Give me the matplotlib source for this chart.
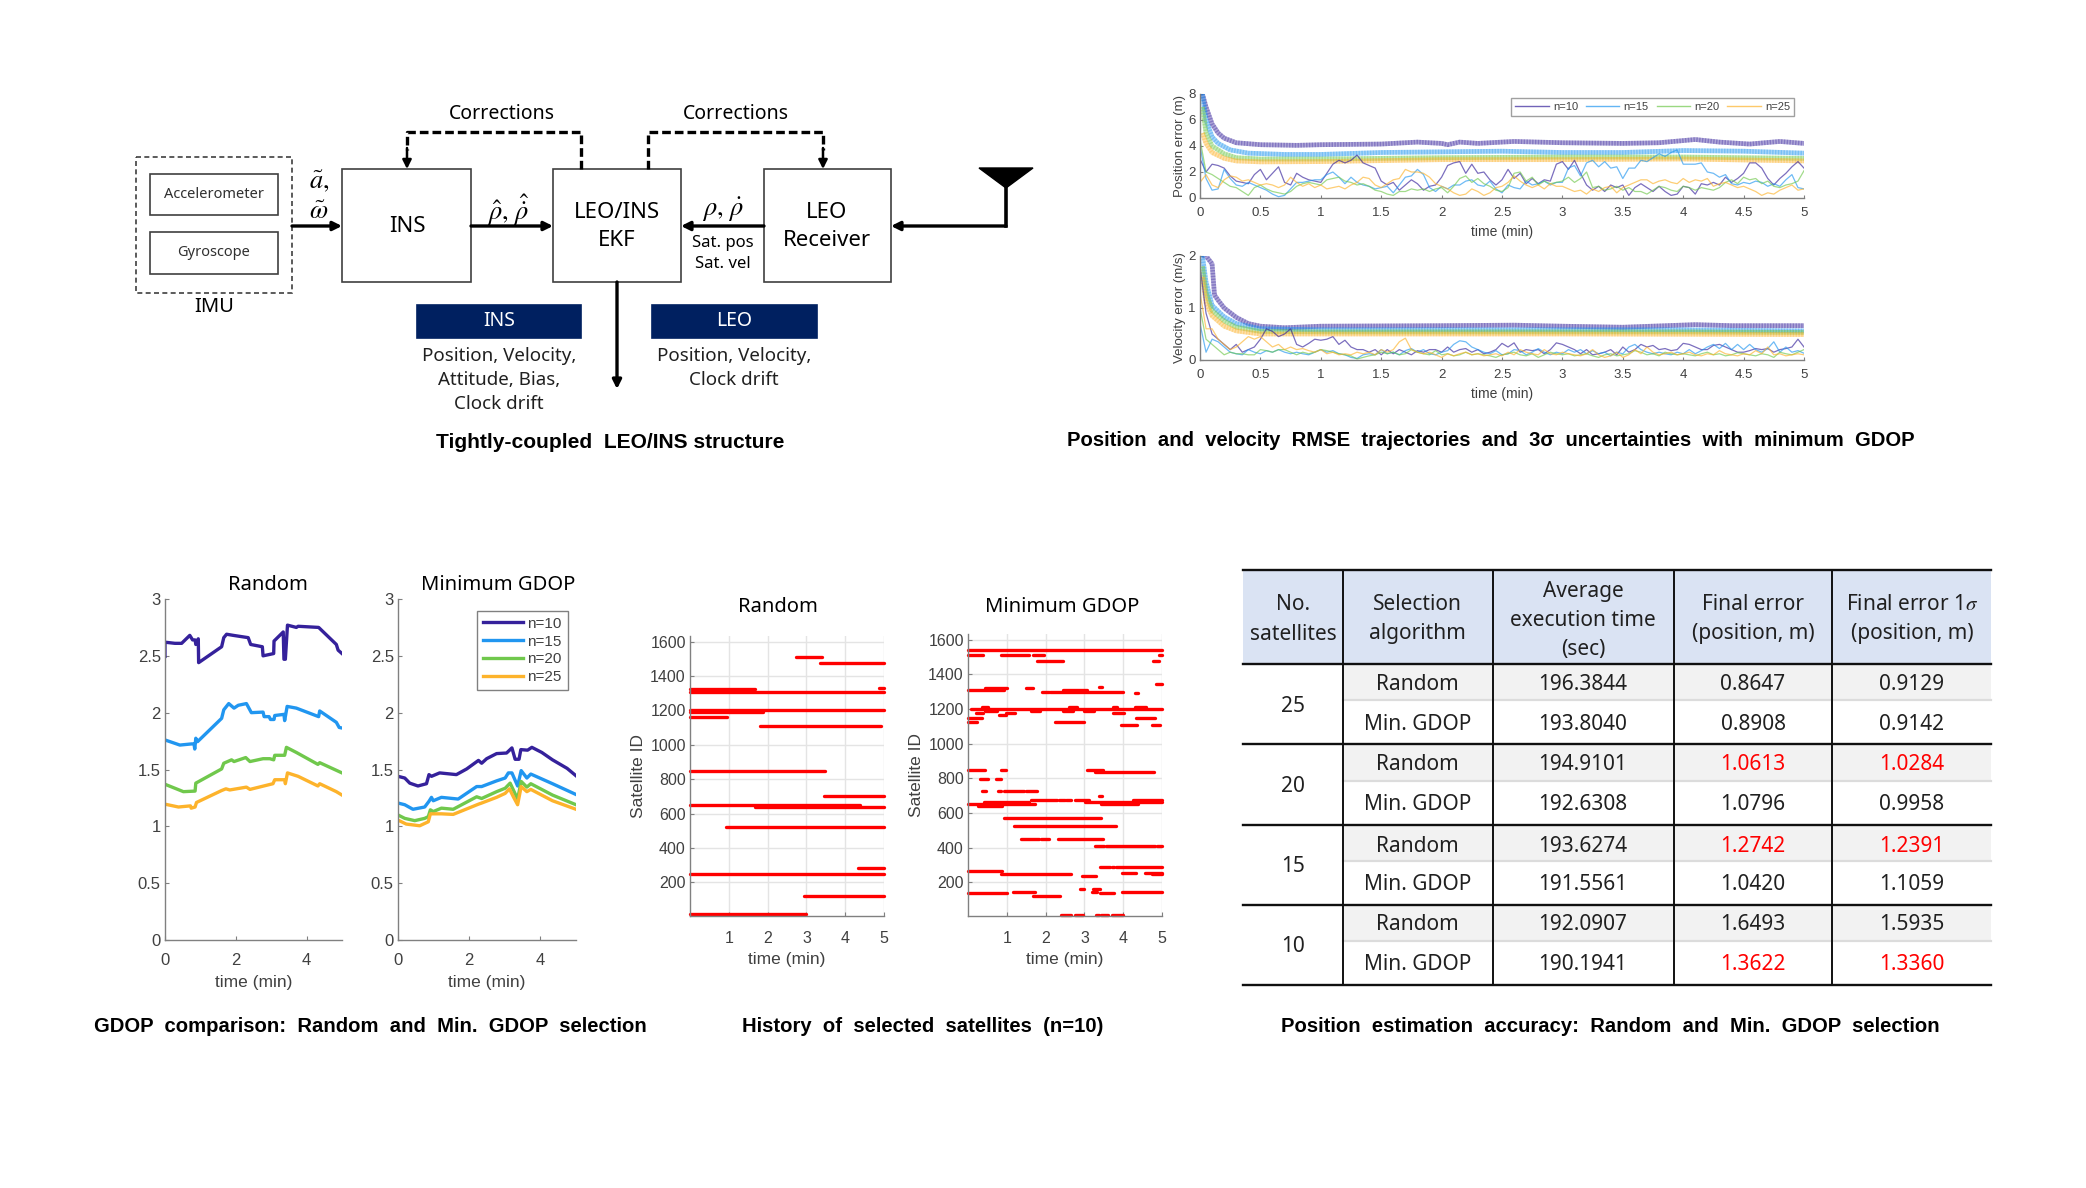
#%% Importing necessary libraries
import numpy as np
import matplotlib
matplotlib.use('Agg')
import matplotlib.pyplot as plt
from matplotlib.patches import Rectangle, Polygon

W, H = 2086, 1188
plt.rcParams['mathtext.fontset'] = 'stix'
sans = ['Noto Sans', 'DejaVu Sans']
arial = ['Liberation Sans', 'DejaVu Sans']
grey_text = '#404040'
grey_line = '#808080'

#%% Data: GDOP comparison (time, value) per number of satellites
labels_n = ['n=10', 'n=15', 'n=20', 'n=25']
colors_n = ['#35219b', '#2196f0', '#70c84c', '#fdb32b']

rand_t_10 = [0, 0, .28, .47, .70, .78, .85, .87, .94, .95, 1.60, 1.66, 1.74, 1.93, 2.35, 2.42, 2.75, 2.77, 3.07, 3.08, 3.34, 3.36, 3.40, 3.46, 3.71, 3.76, 4.34, 4.84, 4.89, 5]
rand_v_10 = [2.495, 2.62, 2.61, 2.61, 2.68, 2.64, 2.64, 2.60, 2.65, 2.44, 2.58, 2.66, 2.69, 2.68, 2.66, 2.60, 2.58, 2.50, 2.52, 2.63, 2.71, 2.47, 2.47, 2.77, 2.75, 2.76, 2.75, 2.60, 2.55, 2.52]
rand_t_15 = [0, .42, .75, .82, .84, .87, .92, 1.60, 1.66, 1.80, 1.95, 2.07, 2.30, 2.44, 2.77, 2.80, 2.94, 2.98, 3.08, 3.10, 3.36, 3.38, 3.45, 3.71, 4.34, 4.37, 4.84, 4.92, 5]
rand_v_15 = [1.76, 1.715, 1.725, 1.725, 1.68, 1.775, 1.745, 1.95, 2.025, 2.08, 2.04, 2.065, 2.08, 2.0, 2.005, 1.965, 1.965, 1.94, 1.94, 1.975, 1.985, 1.93, 2.055, 2.04, 1.965, 2.015, 1.915, 1.87, 1.865]
rand_t_20 = [0, .52, .85, .87, 1.60, 1.66, 1.88, 1.95, 2.28, 2.40, 2.77, 2.96, 3.07, 3.10, 3.38, 3.43, 3.71, 4.32, 4.37, 5]
rand_v_20 = [1.37, 1.305, 1.31, 1.38, 1.505, 1.555, 1.585, 1.57, 1.605, 1.57, 1.595, 1.595, 1.585, 1.625, 1.625, 1.695, 1.65, 1.545, 1.56, 1.47]
rand_t_25 = [0, .38, .72, .74, .85, .89, 1.60, 1.72, 1.83, 2.30, 2.40, 3.05, 3.10, 3.38, 3.40, 3.46, 3.76, 4.32, 4.37, 4.84, 5]
rand_v_25 = [1.195, 1.17, 1.18, 1.16, 1.17, 1.21, 1.315, 1.33, 1.32, 1.345, 1.325, 1.375, 1.41, 1.41, 1.375, 1.47, 1.44, 1.355, 1.375, 1.305, 1.275]

gdop_t_10 = [0, .19, .33, .56, .80, .87, .94, 1.17, 1.64, 1.93, 2.26, 2.35, 2.49, 2.77, 3.05, 3.20, 3.29, 3.40, 3.45, 3.64, 3.76, 4.04, 4.34, 4.75, 5]
gdop_v_10 = [1.44, 1.425, 1.38, 1.355, 1.375, 1.455, 1.44, 1.47, 1.455, 1.505, 1.58, 1.555, 1.595, 1.64, 1.645, 1.69, 1.59, 1.59, 1.675, 1.67, 1.695, 1.65, 1.585, 1.51, 1.445]
gdop_t_15 = [0, .19, .42, .75, .87, .94, .99, 1.22, 1.69, 2.21, 2.35, 2.77, 3.01, 3.10, 3.20, 3.36, 3.46, 3.62, 3.73, 4.34, 5]
gdop_v_15 = [1.205, 1.19, 1.15, 1.17, 1.22, 1.255, 1.225, 1.255, 1.24, 1.35, 1.35, 1.40, 1.425, 1.47, 1.47, 1.355, 1.49, 1.425, 1.46, 1.375, 1.28]
gdop_t_20 = [0, .19, .47, .75, .85, .91, .99, 1.22, 1.55, 2.21, 2.35, 2.77, 3.01, 3.15, 3.36, 3.46, 3.62, 3.73, 4.34, 5]
gdop_v_20 = [1.10, 1.07, 1.05, 1.07, 1.085, 1.145, 1.13, 1.16, 1.15, 1.26, 1.245, 1.305, 1.335, 1.38, 1.24, 1.395, 1.345, 1.375, 1.275, 1.19]
gdop_t_25 = [0, .23, .61, .85, .91, 1.22, 1.55, 2.26, 2.35, 2.77, 3.01, 3.13, 3.24, 3.36, 3.46, 3.62, 3.73, 4.34, 5]
gdop_v_25 = [1.055, 1.02, 1.005, 1.04, 1.11, 1.11, 1.105, 1.195, 1.205, 1.255, 1.29, 1.33, 1.26, 1.19, 1.35, 1.305, 1.325, 1.225, 1.15]

#%% Data: selected satellites, id and the time spans it was tracked
rand_ids = [16, 119, 247, 283, 525, 636, 650, 700, 849, 1107, 1163, 1192, 1204, 1308, 1322, 1330, 1477, 1512]
rand_spans = [[(0, 2.98)], [(2.93, 5)], [(0, 5)], [(4.33, 5)], [(.92, 5)], [(1.67, 5)], [(0, 4.37)], [(3.45, 5)], [(0, 3.49)],
              [(1.80, 4.93)], [(0, .96)], [(0, 1.87)], [(0, 5)], [(0, 5)], [(0, 1.67)], [(4.87, 5)], [(3.36, 5)], [(2.74, 3.40)]]

gdop_ids = [1539, 1508, 1475, 1341, 1329, 1318, 1308, 1296, 1290, 1211, 1202, 1188, 1177, 1163, 1146, 1123, 1105,
            849, 836, 793, 724, 699, 676, 664, 653, 638, 572, 526, 450, 406, 285, 267, 252, 246, 237, 158, 146, 136, 121, 12]
gdop_spans = [[(0, 5)],
              [(0, .39), (.84, 1.56), (1.68, 1.95), (4.92, 5)],
              [(1.78, 2.46), (4.77, 4.91)],
              [(4.85, 5)],
              [(3.38, 3.45)],
              [(.45, 1.01), (1.5, 1.68)],
              [(0, .92), (2.46, 3.06)],
              [(1.9, 2.08), (2.12, 4.0)],
              [(4.30, 4.38)],
              [(.37, .51), (2.6, 2.8), (3.74, 3.85), (4.3, 4.6)],
              [(.07, 5)],
              [(.45, .75), (1.62, 1.85), (2.45, 2.7), (3.0, 3.25)],
              [(.2, .39), (.97, 1.22), (3.74, 4.02)],
              [(.8, .97)],
              [(0, .37), (4.32, 4.81)],
              [(0, .24), (2.23, 2.99)],
              [(3.95, 4.36), (4.73, 4.94)],
              [(0, .45), (.84, .97), (3.06, 3.49)],
              [(3.27, 4.79)],
              [(.32, .52), (.71, .85)],
              [(.35, .47), (.78, .85), (.92, 1.44), (1.5, 1.78)],
              [(3.38, 3.45)],
              [(1.62, 2.29), (2.34, 2.5), (2.53, 2.65), (2.76, 3.12), (4.26, 5)],
              [(.41, 1.56), (3.02, 5)],
              [(0, 1.73), (3.44, 4.38)],
              [(.26, .88)],
              [(.94, 3.44)],
              [(1.18, 3.81)],
              [(1.37, 1.82), (1.89, 2.10), (2.32, 3.47)],
              [(3.27, 3.5), (3.56, 4.83), (4.87, 5)],
              [(3.4, 3.66), (3.7, 3.76), (3.81, 5)],
              [(0, .88)],
              [(3.96, 4.32), (4.56, 5)],
              [(.86, 2.65), (4.73, 5)],
              [(2.93, 3.29)],
              [(2.89, 2.99), (3.23, 3.4)],
              [(1.16, 1.73), (3.19, 3.32), (3.96, 5)],
              [(0, 1.01), (3.4, 3.76)],
              [(1.67, 2.38)],
              [(2.4, 2.65), (2.76, 2.96), (3.29, 3.38), (3.43, 3.62), (3.72, 4.0)]]

#%% Data: RMSE trajectories, one value every 0.05 min
pos_err_10 = [3.0, 2.0, 2.6, 2.5, 2.3, 1.7, 1.3, 1.2, 1.1, 1.8, 2.2, 1.4, 1.9, 2.4, 1.2, 1.0, 1.9, 1.6, 1.4, 1.3,
              1.2, 1.9, 2.6, 2.9, 2.7, 2.9, 3.3, 2.7, 2.5, 2.3, 1.3, 1.0, 1.2, .6, 1.0, 1.4, 1.1, .6, .9, 1.0,
              1.6, 2.5, 2.7, 2.8, 1.9, 2.6, 1.9, 2.0, 1.4, 1.0, 1.4, 2.2, 1.5, 1.9, 1.1, 1.5, 1.1, 1.4, 1.3, 2.6,
              2.8, 2.2, 2.9, 1.9, 1.0, .6, .9, .5, 1.0, .8, 1.0, .2, .8, 1.1, .8, .5, .9, .5, .2, .3,
              .9, .8, .3, 1.1, 1.0, 1.2, 1.0, 1.6, 1.2, 1.5, 1.9, 2.7, 2.7, 2.3, 1.5, 1.0, 1.5, 1.9, 2.4, 2.8, 2.3]
pos_err_15 = [4.0, 1.5, .6, .7, 2.2, 1.5, 1.0, .9, 1.2, 1.0, .8, .6, .3, .1, .2, .7, 1.2, 1.2, 1.3, 1.4,
              1.4, 1.8, 2.0, 1.6, 1.1, 1.6, 1.2, 1.0, .9, .7, .8, .9, .4, 1.0, 1.6, 1.7, 2.2, 1.8, .8, .5,
              .9, .7, 1.0, 1.0, 1.3, 1.4, 1.0, .9, 1.3, .7, .4, 1.0, .8, .7, 1.3, 1.0, 1.1, 1.3, 1.0, 1.2,
              1.2, 2.3, 2.5, 1.7, 2.7, 2.9, 2.4, 2.8, 2.3, 2.4, 1.5, 2.3, 2.3, 2.9, 2.8, 3.1, 3.4, 3.2, 3.5, 3.7,
              2.6, 2.6, 2.6, 2.7, 2.0, 1.9, 1.6, 1.8, 1.1, 1.0, 1.2, 1.1, 1.3, 1.2, .9, 1.1, .9, 1.4, 1.8, .8, .7]
pos_err_20 = [4.5, 2.0, 1.8, 1.5, 1.2, .9, .8, .5, .2, .8, 1.0, .7, .5, .4, .3, .5, .9, 1.1, 1.2, 1.1,
              1.0, 1.4, 1.5, 1.6, 1.3, 1.2, 1.0, 1.1, .9, .6, .5, .3, .2, .5, .5, .7, .6, .7, .5, .7,
              .8, .4, .9, 1.5, 1.7, 1.2, 1.5, 1.1, .9, .6, .5, .8, 1.9, 2.0, 1.3, 1.6, 1.0, 1.3, 1.1, 1.2,
              1.3, 1.6, 1.2, 1.5, 2.0, .8, .9, .6, .7, .9, .6, .8, .5, .5, .3, .6, .9, .8, .6, .5,
              .9, .8, .6, .8, .7, .6, .8, 1.2, 1.4, 1.1, 1.6, 1.4, 1.5, 1.1, 1.3, .9, .8, 1.0, 1.1, 1.3, 2.1]
pos_err_25 = [1.2, 1.8, 1.0, .8, 1.4, 1.7, 1.6, 1.3, 1.4, 1.2, 1.0, 1.1, 1.0, .8, 1.0, 1.6, 1.2, .9, 1.1, .8,
              1.0, .7, .8, .9, .7, 1.0, 1.2, 1.6, 1.5, 1.0, .8, 1.1, 1.4, 1.5, 2.2, 2.0, 2.0, 1.9, 1.6, 1.1,
              .9, .7, .4, .2, .3, .7, .5, .2, .4, .8, .9, 1.2, 1.7, 1.3, 1.0, .8, 1.0, .7, 1.1, .9,
              .9, .7, .5, .6, .3, .7, .5, .8, .9, .4, .8, 1.0, 1.2, 1.4, 1.4, 1.1, 1.3, 1.4, 1.2, 1.1,
              1.5, 1.2, 1.4, 1.3, 1.5, .9, 1.1, 1.2, 1.0, .8, .9, .7, .5, .2, .4, .3, .6, .8, 1.0, .6, .7]

vel_err_10 = [1.8, .9, .5, .4, .3, .2, .3, .15, .2, .25, .4, .6, .55, .45, .5, .6, .3, .25, .32, .4,
              .38, .4, .45, .3, .38, .25, .2, .2, .15, .2, .1, .2, .12, .2, .15, .1, .18, .15, .2, .2,
              .15, .25, .15, .2, .22, .15, .2, .12, .15, .2, .32, .25, .33, .15, .2, .18, .2, .12, .2, .33,
              .3, .25, .2, .12, .2, .1, .12, .15, .2, .1, .25, .15, .2, .3, .25, .28, .2, .22, .18, .2,
              .32, .3, .25, .2, .2, .28, .3, .25, .2, .15, .15, .18, .22, .2, .22, .15, .2, .22, .25, .4, .25]
vel_err_15 = [.7, .15, .4, .35, .25, .15, .12, .1, .2, .15, .12, .18, .15, .2, .15, .12, .15, .12, .1, .15,
              .2, .15, .18, .12, .1, .05, .03, .1, .12, .1, .2, .12, .15, .1, .18, .22, .15, .2, .12, .1,
              .15, .18, .3, .37, .35, .25, .2, .15, .12, .18, .1, .12, .2, .18, .1, .15, .22, .15, .1, .15,
              .12, .2, .15, .2, .12, .18, .12, .15, .08, .15, .12, .25, .3, .2, .15, .12, .15, .12, .1, .15,
              .12, .2, .12, .18, .25, .3, .22, .32, .2, .3, .2, .3, .2, .15, .22, .35, .15, .25, .15, .18, .13]
vel_err_20 = [1.0, .4, .3, .2, .1, .15, .12, .12, .1, .1, .2, .18, .15, .2, .2, .15, .1, .15, .12, .15,
              .2, .18, .15, .12, .1, .08, .02, .05, .08, .1, .15, .12, .15, .1, .12, .2, .15, .12, .1, .18,
              .1, .12, .08, .1, .15, .1, .12, .1, .08, .05, .1, .12, .15, .1, .08, .12, .05, .1, .15, .12,
              .1, .12, .08, .1, .12, .08, .05, .1, .12, .08, .1, .12, .18, .15, .1, .12, .08, .15, .12, .1,
              .12, .1, .08, .12, .15, .1, .12, .08, .1, .14, .12, .1, .08, .12, .1, .05, .15, .12, .1, .15, .2]
vel_err_25 = [1.3, .6, .6, .4, .3, .2, .25, .35, .45, .4, .45, .35, .25, .3, .2, .25, .2, .22, .18, .15,
              .2, .12, .15, .1, .12, .1, .15, .12, .15, .1, .2, .15, .2, .35, .42, .2, .15, .12, .15, .1,
              .05, .12, .08, .12, .15, .1, .12, .08, .1, .12, .08, .15, .1, .2, .15, .12, .1, .2, .12, .1,
              .15, .12, .1, .08, .12, .2, .1, .05, .08, .15, .05, .1, .2, .12, .25, .15, .1, .12, .15, .1,
              .12, .15, .1, .08, .12, .1, .18, .12, .1, .08, .12, .1, .18, .12, .25, .1, .12, .08, .1, .12, .1]

#%% Data: 3 sigma curves, read at uneven times
pos_sig_t = [[.02, .05, .1, .15, .2, .3, .5, .8, 1, 1.5, 1.8, 2, 2.05, 2.15, 2.3, 2.6, 3, 3.5, 3.8, 4.1, 4.3, 4.55, 4.8, 5],
             [.02, .05, .1, .15, .25, .4, .7, 1, 1.5, 2, 2.5, 3, 3.5, 4, 4.5, 5],
             [.02, .05, .1, .2, .3, .5, 1, 1.5, 2, 3, 4, 5],
             [.02, .05, .1, .2, .3, .5, 1, 2, 3, 4, 5]]
pos_sig_v = [[8, 7, 5.7, 5, 4.6, 4.25, 4.1, 4.05, 4.1, 4.15, 4.3, 4.2, 4.1, 4.3, 4.2, 4.35, 4.25, 4.2, 4.25, 4.5, 4.3, 4.15, 4.35, 4.2],
             [8, 6, 4.7, 4.2, 3.7, 3.45, 3.35, 3.35, 3.5, 3.55, 3.6, 3.5, 3.5, 3.65, 3.6, 3.45],
             [7, 5, 4, 3.4, 3.1, 3.0, 3.0, 3.05, 3.1, 3.15, 3.15, 3.05],
             [5, 4.2, 3.5, 3.05, 2.85, 2.78, 2.8, 2.95, 2.95, 3.0, 2.85]]
vel_sig_t = [[.02, .05, .1, .12, .15, .2, .3, .4, .5, .7, 1, 2, 2.6, 3, 3.5, 4.1, 4.4, 5],
             [.02, .05, .1, .2, .3, .5, 1, 2, 3, 4, 5],
             [.02, .05, .1, .2, .3, .5, 1, 2, 3, 4, 5],
             [.02, .05, .1, .2, .3, .5, 1, 2, 3, 5]]
vel_sig_v = [[2, 2, 1.85, 1.25, 1.15, 1.0, .82, .7, .65, .62, .65, .66, .67, .65, .63, .68, .66, .66],
             [2, 1.5, 1.05, .83, .7, .6, .58, .58, .58, .58, .56],
             [1.8, 1.3, .95, .75, .63, .55, .54, .54, .54, .54, .53],
             [1.6, 1.1, .85, .65, .56, .5, .5, .5, .5, .49]]

#%% Data: accuracy table
table_header = [['No.', 'satellites'], ['Selection', 'algorithm'], ['Average', 'execution time', '(sec)'],
                ['Final error', '(position, m)'], ['Final error 1$\\sigma$', '(position, m)']]
sat_groups = ['25', '20', '15', '10']
algorithms = ['Random', 'Min. GDOP'] * 4
exec_time = ['196.3844', '193.8040', '194.9101', '192.6308', '193.6274', '191.5561', '192.0907', '190.1941']
final_err = ['0.8647', '0.8908', '1.0613', '1.0796', '1.2742', '1.0420', '1.6493', '1.3622']
final_sig = ['0.9129', '0.9142', '1.0284', '0.9958', '1.2391', '1.1059', '1.5935', '1.3360']
red_rows = [2, 4, 7]

#%% Figure helpers
fig = plt.figure(figsize=(W / 100, H / 100), dpi=100, facecolor='white')


def px_axes(x0, x1, y_top, y_bottom):
    return fig.add_axes([x0 / W, 1 - y_bottom / H, (x1 - x0) / W, (y_bottom - y_top) / H])


def style_axes(ax, size, xpad):
    for side in ['top', 'right']:
        ax.spines[side].set_visible(False)
    for side in ['left', 'bottom']:
        ax.spines[side].set_color(grey_line)
        ax.spines[side].set_linewidth(1.0)
    ax.tick_params(direction='in', length=3, width=0.8, color=grey_line, labelcolor=grey_text, labelsize=size, pad=3)
    ax.tick_params(axis='x', pad=xpad)
    for lab in ax.get_xticklabels() + ax.get_yticklabels():
        lab.set_family(arial)


canvas = fig.add_axes([0, 0, 1, 1], zorder=5)
canvas.set_xlim(0, W)
canvas.set_ylim(H, 0)
canvas.axis('off')
canvas.patch.set_alpha(0)


def put(x, y, s, size=14, family=sans, **kw):
    # Noto sits a little high when centred
    if family is sans:
        y = y + 2
    canvas.text(x, y, s, fontsize=size, family=family, ha='center', va='center', **kw)


def box(x0, y0, x1, y1, **kw):
    kw.setdefault('fc', 'white')
    kw.setdefault('ec', '#404040')
    kw.setdefault('lw', 1.2)
    canvas.add_patch(Rectangle((x0, y0), x1 - x0, y1 - y0, **kw))


def arrow(x0, y0, x1, y1, lw=2.4):
    canvas.annotate('', xy=(x1, y1), xytext=(x0, y0),
                    arrowprops=dict(arrowstyle='-|>', color='black', lw=lw, mutation_scale=13, shrinkA=0, shrinkB=0))


#%% Block diagram
box(136, 157, 292, 293, ls=(0, (3, 2)), lw=1.2)
box(150, 174, 278, 215)
box(150, 232, 278, 274)
put(214, 192, 'Accelerometer', 10.5, color='#303030')
put(214, 250, 'Gyroscope', 10.5, color='#303030')
put(214, 305, 'IMU', 14.5)
box(342, 169, 471, 282)
box(553, 169, 681, 282)
box(764, 169, 891, 282)
put(407, 224, 'INS', 16)
put(617, 210, 'LEO/INS', 16)
put(617, 238, 'EKF', 16)
put(827, 210, 'LEO', 16)
put(827, 238, 'Receiver', 16)
put(502, 112, 'Corrections', 14)
put(736, 112, 'Corrections', 14)
canvas.plot([581, 581, 407, 407], [169, 132, 132, 150], color='black', lw=2.4, ls=(0, (2.6, 1.2)))
canvas.plot([648, 648, 823, 823], [169, 132, 132, 150], color='black', lw=2.4, ls=(0, (2.6, 1.2)))
arrow(407, 148, 407, 169, lw=1.8)
arrow(823, 148, 823, 169, lw=1.8)
arrow(292, 226, 342, 226)
arrow(471, 226, 553, 226)
arrow(764, 226, 681, 226)
arrow(1006, 226, 891, 226)
canvas.plot([1006, 1006], [186, 226], color='black', lw=2.6)
canvas.add_patch(Polygon([(979, 168), (1033, 168), (1006, 188)], fc='black', ec='black'))
arrow(617, 282, 617, 389)
put(319, 179, r'$\tilde{a},$', 19)
put(319, 210, r'$\tilde{\omega}$', 19)
put(508, 208, r'$\hat{\rho},\,\hat{\dot{\rho}}$', 19)
put(723, 208, r'$\rho,\,\dot{\rho}$', 19)
put(723, 241, 'Sat. pos', 12)
put(723, 262, 'Sat. vel', 12)
box(417, 305, 581, 338, fc='#002060', ec='#002060')
box(652, 305, 817, 338, fc='#002060', ec='#002060')
put(499, 319, 'INS', 14, color='white')
put(734, 319, 'LEO', 14, color='white')
for y, s in zip([354, 378, 402], ['Position, Velocity,', 'Attitude, Bias,', 'Clock drift']):
    put(499, y, s, 13.5, color='#202020')
for y, s in zip([354, 378], ['Position, Velocity,', 'Clock drift']):
    put(734, y, s, 13.5, color='#202020')

#%% RMSE trajectories
def rmse_panel(ax, errs, sig_t, sig_v, ymax, yticks, ylabel):
    for t, v, c in zip(sig_t, sig_v, colors_n):
        ax.plot(t, v, color=c, lw=3.4, alpha=0.4, solid_capstyle='butt')
        ax.plot(t, v, color=c, lw=3.4, alpha=0.35, ls=(0, (0.3, 0.3)))
    for e, c in zip(errs, colors_n):
        ax.plot(np.linspace(0, 5, len(e)), e, color=c, lw=0.9, alpha=0.65)
    ax.set_xlim(0, 5)
    ax.set_ylim(0, ymax)
    ax.set_xticks(np.arange(0, 5.5, 0.5))
    ax.set_xticklabels(['0', '0.5', '1', '1.5', '2', '2.5', '3', '3.5', '4', '4.5', '5'])
    ax.set_yticks(yticks)
    style_axes(ax, 9.5, 6.5)
    ax.tick_params(length=2.5)
    ax.set_xlabel('time (min)', fontsize=10, family=arial, color=grey_text, labelpad=4)
    ax.set_ylabel(ylabel, fontsize=9.5, family=arial, color=grey_text, labelpad=2)


ax_pos = px_axes(1200, 1804, 94, 198)
rmse_panel(ax_pos, [pos_err_10, pos_err_15, pos_err_20, pos_err_25], pos_sig_t, pos_sig_v, 8, [0, 2, 4, 6, 8], 'Position error (m)')
ax_vel = px_axes(1200, 1804, 256, 360)
rmse_panel(ax_vel, [vel_err_10, vel_err_15, vel_err_20, vel_err_25], vel_sig_t, vel_sig_v, 2, [0, 1, 2], 'Velocity error (m/s)')
handles = [plt.Line2D([], [], color=c, lw=1.0, alpha=0.7) for c in colors_n]
leg = ax_pos.legend(handles, labels_n, ncol=4, loc='upper right', bbox_to_anchor=(0.9835, 0.96), borderaxespad=0,
                    prop={'family': arial, 'size': 8}, frameon=True, fancybox=False, edgecolor='#a0a0a0', framealpha=1,
                    handlelength=3.0, columnspacing=0.7, handletextpad=0.4, borderpad=0.35)
leg.get_frame().set_linewidth(1.0)
for t in leg.get_texts():
    t.set_color(grey_text)

#%% GDOP comparison
def gdop_panel(ax, series):
    for (t, v), c in zip(series, colors_n):
        ax.plot(t, v, color=c, lw=2.4, label=None)
    ax.set_xlim(0, 5)
    ax.set_ylim(0, 3)
    ax.set_xticks([0, 2, 4])
    ax.set_yticks([0, 0.5, 1, 1.5, 2, 2.5, 3])
    ax.set_yticklabels(['0', '0.5', '1', '1.5', '2', '2.5', '3'])
    style_axes(ax, 12, 9.5)
    ax.set_xlabel('time (min)', fontsize=12.5, family=arial, color=grey_text, labelpad=5)


ax_g1 = px_axes(165, 342, 599, 940)
gdop_panel(ax_g1, [(rand_t_10, rand_v_10), (rand_t_15, rand_v_15), (rand_t_20, rand_v_20), (rand_t_25, rand_v_25)])
ax_g2 = px_axes(398, 576, 599, 940)
gdop_panel(ax_g2, [(gdop_t_10, gdop_v_10), (gdop_t_15, gdop_v_15), (gdop_t_20, gdop_v_20), (gdop_t_25, gdop_v_25)])
handles = [plt.Line2D([], [], color=c, lw=2.4) for c in colors_n]
leg = ax_g2.legend(handles, labels_n, loc='upper right', bbox_to_anchor=(0.955, 0.966), borderaxespad=0,
                   prop={'family': arial, 'size': 11}, frameon=True, fancybox=False, edgecolor='#808080', framealpha=1,
                   handlelength=2.6, handletextpad=0.3, labelspacing=0.25, borderpad=0.4)
leg.get_frame().set_linewidth(1.0)
for t in leg.get_texts():
    t.set_color(grey_text)
put(268, 583, 'Random', 14.5)
put(498, 583, 'Minimum GDOP', 14.5)

#%% History of selected satellites
def sat_panel(ax, ids, spans):
    ax.grid(True, color='#e4e4e4', lw=1.0)
    ax.set_axisbelow(True)
    for sat, sp in zip(ids, spans):
        for t0, t1 in sp:
            ax.plot([t0, t1], [sat, sat], color='#ff0000', lw=2.4, solid_capstyle='round', clip_on=False)
    ax.set_xlim(0, 5)
    ax.set_ylim(5, 1632)
    ax.set_xticks([1, 2, 3, 4, 5])
    ax.set_yticks(range(200, 1800, 200))
    style_axes(ax, 11.5, 11)
    ax.set_xlabel('time (min)', fontsize=12.5, family=arial, color=grey_text, labelpad=4)
    ax.set_ylabel('Satellite ID', fontsize=12.5, family=arial, color=grey_text, labelpad=3)


ax_s1 = px_axes(690, 884, 636, 916)
sat_panel(ax_s1, rand_ids, rand_spans)
ax_s2 = px_axes(968, 1162, 634, 916)
sat_panel(ax_s2, gdop_ids, gdop_spans)
put(778, 605, 'Random', 14.5)
put(1062, 605, 'Minimum GDOP', 14.5)

#%% Accuracy table
col_x = [1243, 1343, 1493, 1674, 1832, 1991]
col_mid = [1293, 1417.5, 1583, 1753, 1912]
row_edges = [664, 700, 744, 781, 825, 861, 905, 941, 985]
row_mid = [683, 722, 763, 803, 844, 883, 923, 963]
group_mid = [704, 785, 865, 945]
box(col_x[0], 570, col_x[-1], 664, fc='#dae3f3', ec='none', lw=0)
for i in range(0, 8, 2):
    box(col_x[1], row_edges[i], col_x[-1], row_edges[i + 1], fc='#f2f2f2', ec='none', lw=0)
for i in [1, 3, 5, 7]:
    canvas.plot([col_x[1], col_x[-1]], [row_edges[i]] * 2, color='#dcdcdc', lw=1.6)
for y in [570, 664, 744, 825, 905, 985]:
    canvas.plot([col_x[0], col_x[-1]], [y, y], color='#101010', lw=1.7)
for x in col_x[1:-1]:
    canvas.plot([x, x], [570, 985], color='#101010', lw=1.4)
header_y = {2: [603, 632], 3: [590, 618, 647]}
for x, lines in zip(col_mid, table_header):
    for y, s in zip(header_y[len(lines)], lines):
        put(x, y, s, 15, color='#202020')
for y, s in zip(group_mid, sat_groups):
    put(col_mid[0], y, s, 15, color='#202020')
for i, y in enumerate(row_mid):
    c = '#ff0000' if i in red_rows else '#202020'
    put(col_mid[1], y, algorithms[i], 15, color='#202020')
    put(col_mid[2], y, exec_time[i], 15, color='#202020')
    put(col_mid[3], y, final_err[i], 15, color=c)
    put(col_mid[4], y, final_sig[i], 15, color=c)

#%% Captions
cap = dict(size=14.6, family=arial, fontweight='bold', color='black')
canvas.text(610, 443, 'Tightly-coupled  LEO/INS structure', fontsize=15.1, family=arial, fontweight='bold', ha='center', va='center')
put(1491, 441, 'Position  and  velocity  RMSE  trajectories  and  3\u03c3  uncertainties  with  minimum  GDOP', **cap)
put(370, 1027, 'GDOP  comparison:  Random  and  Min.  GDOP  selection', **cap)
put(923, 1027, 'History  of  selected  satellites  (n=10)', **cap)
put(1610, 1027, 'Position  estimation  accuracy:  Random  and  Min.  GDOP  selection', **cap)

plt.savefig('out.png', dpi=100)
